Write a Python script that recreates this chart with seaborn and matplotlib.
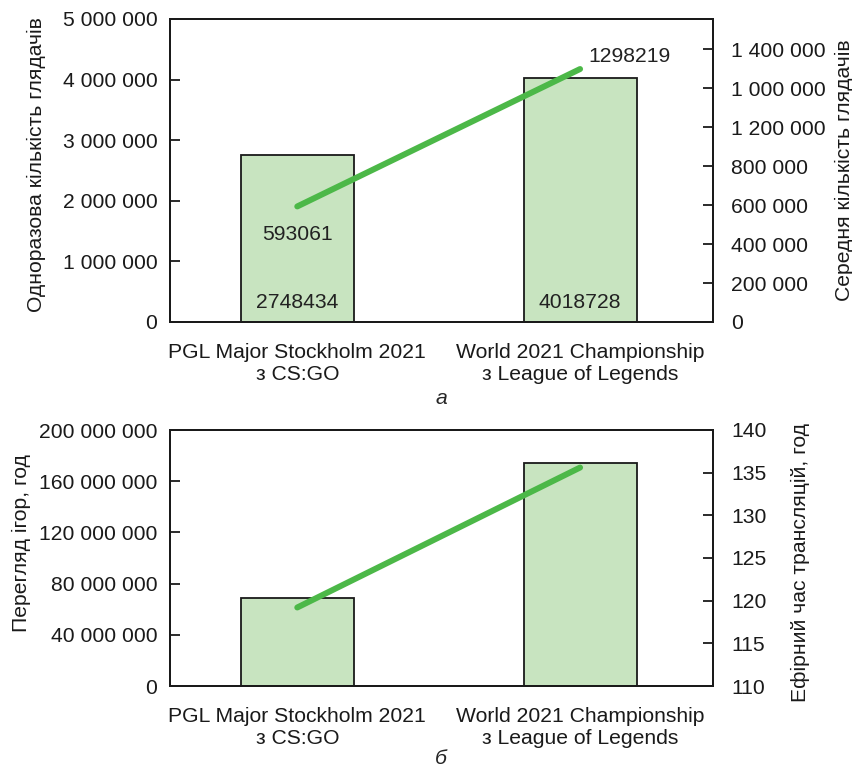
import matplotlib
matplotlib.use("Agg")
import matplotlib.pyplot as plt
import seaborn as sns
import pandas as pd
import numpy as np

# ---- data ----
categories = ["PGL Major Stockholm 2021\nз CS:GO",
              "World 2021 Championship\nз League of Legends"]
peak_viewers = [2748434, 4018728]
avg_viewers = [593061, 1298219]
hours_watched = [68900000, 174500000]
airtime_hours = [119.2, 135.6]

left_ticks_a = [0, 1000000, 2000000, 3000000, 4000000, 5000000]
left_labels_a = ["0", "1 000 000", "2 000 000", "3 000 000", "4 000 000", "5 000 000"]
right_ticks_a = [0, 200000, 400000, 600000, 800000, 1000000, 1200000, 1400000]
right_labels_a = ["0", "200 000", "400 000", "600 000", "800 000",
                  "1 200 000", "1 000 000", "1 400 000"]
left_ticks_b = [0, 40000000, 80000000, 120000000, 160000000, 200000000]
left_labels_b = ["0", "40 000 000", "80 000 000", "120 000 000", "160 000 000", "200 000 000"]
right_ticks_b = [110, 115, 120, 125, 130, 135, 140]
right_labels_b = ["110", "115", "120", "125", "130", "135", "140"]

BAR = "#c8e4c0"
LINE = "#4cb848"
FS = 15.2

sns.set_theme(style="white")
plt.rcParams["font.family"] = ["Liberation Sans", "DejaVu Sans"]
plt.rcParams["font.size"] = FS

fig = plt.figure(figsize=(8.53, 7.67), dpi=100)
W, H = 853, 767
L, R = 170, 713


def make_panel(rect, bars, line, lt, ll, lylim, rt, rl, rylim, llabel, rlabel,
               lcoords, rcoords):
    ax = fig.add_axes(rect)
    df = pd.DataFrame({"cat": categories, "val": bars})
    sns.barplot(data=df, x="cat", y="val", ax=ax, color=BAR, saturation=1,
                edgecolor="#1a1a1a", linewidth=1.3, width=0.4)
    ax2 = ax.twinx()
    pos = np.arange(len(categories))
    sns.lineplot(x=pos, y=line, ax=ax2, color=LINE, linewidth=4.3,
                 solid_capstyle="round")
    ax.set_xlim(-0.45, 1.47)
    ax.set_xticks(pos)
    ax.set_xticklabels(categories, fontsize=FS)
    ax.set_xlabel("")
    ax2.set_xlabel("")
    ax.set_ylim(*lylim)
    ax.set_yticks(lt)
    ax.set_yticklabels(ll, fontsize=FS)
    ax2.set_ylim(*rylim)
    ax2.set_yticks(rt)
    ax2.set_yticklabels(rl, fontsize=FS)
    ax.tick_params(axis="x", length=0, pad=15, colors="#1a1a1a")
    ax.tick_params(axis="y", direction="in", length=7, width=1.3, pad=9,
                   colors="#1a1a1a")
    ax2.tick_params(axis="y", direction="in", length=7, width=1.3, pad=13,
                    colors="#1a1a1a")
    for a in (ax, ax2):
        for s in a.spines.values():
            s.set_visible(True)
            s.set_color("#1a1a1a")
            s.set_linewidth(1.4)
    ax.set_ylabel(llabel, fontsize=FS, color="#1a1a1a")
    ax2.set_ylabel(rlabel, fontsize=FS, color="#1a1a1a")
    ax.yaxis.set_label_coords(*lcoords)
    ax2.yaxis.set_label_coords(*rcoords)
    return ax, ax2


# top panel (а)
top_rect = [L / W, 1 - 322 / H, (R - L) / W, (322 - 19) / H]
axA, axA2 = make_panel(top_rect, peak_viewers, avg_viewers,
                       left_ticks_a, left_labels_a, (0, 5000000),
                       right_ticks_a, right_labels_a, (0, 1555000),
                       "Одноразова кількість глядачів", "Середня кількість глядачів",
                       (-0.228, 0.52), (1.225, 0.5))
for i, v in enumerate(peak_viewers):
    axA.annotate(str(v), (i, 0), xytext=(0, 14), textcoords="offset points",
                 ha="center", va="center", fontsize=FS, color="#222222")
axA2.annotate(str(avg_viewers[0]), (0, avg_viewers[0]), xytext=(0, -20),
              textcoords="offset points", ha="center", va="center",
              fontsize=FS, color="#222222")
axA2.annotate(str(avg_viewers[1]), (1, avg_viewers[1]), xytext=(6, 9),
              textcoords="offset points", ha="left", va="center",
              fontsize=FS, color="#222222")

# bottom panel (б)
bot_rect = [L / W, 1 - 686 / H, (R - L) / W, (686 - 430) / H]
axB, axB2 = make_panel(bot_rect, hours_watched, airtime_hours,
                       left_ticks_b, left_labels_b, (0, 200000000),
                       right_ticks_b, right_labels_b, (110, 140),
                       "Перегляд ігор, год", "Ефірний час трансляцій, год",
                       (-0.256, 0.56), (1.144, 0.484))

fig.text(441 / W, 1 - 398 / H, "а", style="italic", ha="center", va="center",
         fontsize=FS)
fig.text(441 / W, 1 - 758 / H, "б", style="italic", ha="center", va="center",
         fontsize=FS)

fig.savefig("out.png", dpi=100)
